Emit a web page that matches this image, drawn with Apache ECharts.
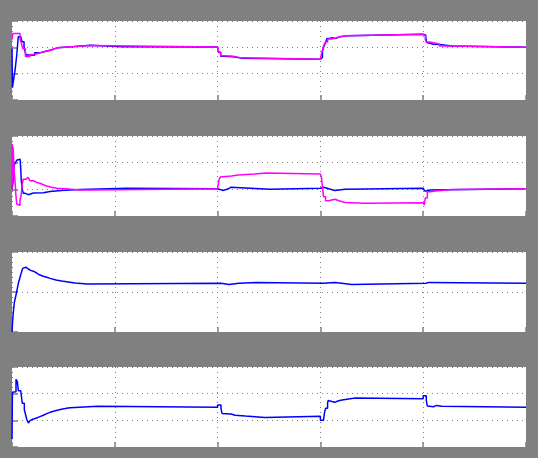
<!DOCTYPE html>
<html>
<head>
<meta charset="utf-8">
<script src="https://cdn.jsdelivr.net/npm/echarts@6/dist/echarts.min.js"></script>
<style>
  html, body { margin: 0; padding: 0; background: #808080; }
  #chart { width: 538px; height: 458px; }
</style>
</head>
<body>
<div id="chart"></div>
<script>
// time axis (s)
var tMin = 0, tMax = 5, tStep = 1;

// scope 1: two traces
var scope1Blue = [[0,1.96],[0.004,0.47],[0.015,0.76],[0.03,1.14],[0.046,1.70],[0.061,2.40],[0.085,2.355],[0.097,2.21],[0.117,2.02],[0.136,1.71],[0.159,1.645],[0.175,1.70],[0.22,1.79],[0.27,1.84],[0.32,1.89],[0.37,1.94],[0.41,1.98],[0.44,2.03],[0.61,2.08],[0.76,2.02],[1.07,2.02],[1.1,2.01],[2.0,2.0],[2.01,1.80],[2.03,1.66],[2.06,1.64],[2.15,1.59],[2.23,1.545],[3.0,1.545],[3.01,1.62],[3.02,1.85],[3.035,2.05],[3.05,2.18],[3.065,2.34],[3.09,2.36],[3.11,2.34],[3.15,2.40],[3.19,2.44],[3.26,2.495],[4.0,2.495],[4.012,2.46],[4.025,2.36],[4.035,2.18],[4.05,2.12],[4.1,2.11],[4.16,2.05],[4.28,2.0],[5.0,2.0]];
var scope1Magenta = [[0,2.30],[0.008,2.53],[0.078,2.32],[0.09,2.16],[0.105,1.95],[0.13,1.65],[0.175,1.73],[0.22,1.79],[0.27,1.84],[0.32,1.89],[0.37,1.94],[0.41,1.98],[0.44,2.03],[0.61,2.07],[0.76,2.01],[2.0,2.0],[2.01,1.82],[2.03,1.68],[2.06,1.66],[2.15,1.60],[2.23,1.545],[3.0,1.545],[3.01,1.75],[3.02,1.90],[3.035,2.10],[3.05,2.20],[3.07,2.32],[3.11,2.355],[3.15,2.40],[3.19,2.44],[3.26,2.495],[4.0,2.495],[4.01,2.43],[4.02,2.30],[4.03,2.20],[4.066,2.13],[4.157,2.05],[4.277,2.0],[5.0,2.0]];

// scope 2: two traces
var scope2Blue = [[0,1.0],[0.005,1.05],[0.013,1.35],[0.02,1.90],[0.035,2.02],[0.05,2.10],[0.068,2.13],[0.08,2.07],[0.09,1.35],[0.1,1.0],[0.11,0.85],[0.13,0.80],[0.16,0.86],[0.207,0.87],[0.305,0.92],[0.37,0.96],[0.48,0.99],[0.66,1.04],[1.12,1.02],[2.0,1.04],[2.01,0.96],[2.05,1.01],[2.1,1.08],[2.13,1.04],[2.32,1.0],[2.51,1.04],[3.0,1.04],[3.01,1.08],[3.03,1.01],[3.09,0.96],[3.14,1.0],[3.24,1.04],[4.0,1.04],[4.015,0.94],[4.035,0.975],[4.065,1.02],[5.0,1.02]];
var scope2Magenta = [[0,1.0],[0.002,2.70],[0.006,1.20],[0.01,2.60],[0.015,2.22],[0.02,1.70],[0.028,1.40],[0.038,0.78],[0.046,0.45],[0.061,0.40],[0.078,0.60],[0.088,0.75],[0.1,1.20],[0.11,1.38],[0.136,1.45],[0.156,1.38],[0.175,1.32],[0.207,1.26],[0.24,1.23],[0.272,1.17],[0.305,1.125],[0.338,1.08],[0.386,1.04],[0.435,1.01],[0.548,0.975],[0.661,0.975],[0.775,1.02],[2.0,1.02],[2.005,1.16],[2.015,1.38],[2.03,1.47],[2.05,1.50],[2.135,1.54],[2.2,1.575],[2.36,1.61],[2.47,1.575],[3.0,1.575],[3.01,1.45],[3.02,1.10],[3.03,0.72],[3.05,0.575],[3.08,0.625],[3.14,0.56],[3.19,0.51],[3.24,0.475],[3.43,0.50],[4.0,0.50],[4.01,0.41],[4.02,0.675],[4.04,0.91],[4.07,0.94],[4.12,0.99],[4.28,1.02],[5.0,1.02]];

// scope 3
var scope3Blue = [[0,0],[0.005,0.22],[0.013,0.51],[0.023,0.74],[0.039,0.925],[0.052,1.09],[0.062,1.22],[0.078,1.37],[0.094,1.51],[0.104,1.59],[0.117,1.62],[0.136,1.575],[0.159,1.54],[0.181,1.52],[0.207,1.475],[0.24,1.43],[0.266,1.40],[0.298,1.375],[0.331,1.34],[0.37,1.30],[0.428,1.275],[0.483,1.25],[0.548,1.225],[0.613,1.20],[0.733,1.22],[2.033,1.19],[2.111,1.22],[2.208,1.24],[2.374,1.22],[3.03,1.24],[3.14,1.22],[3.207,1.19],[3.305,1.22],[4.03,1.24],[4.05,1.22],[5.0,1.22]];

// scope 4
var scope4Blue = [[0,0.29],[0.004,2.05],[0.01,2.07],[0.039,2.54],[0.052,2.45],[0.062,2.11],[0.085,2.04],[0.1,1.64],[0.12,1.39],[0.133,1.20],[0.143,1.04],[0.159,0.90],[0.175,0.99],[0.191,1.05],[0.207,1.09],[0.24,1.14],[0.272,1.19],[0.305,1.25],[0.338,1.30],[0.37,1.35],[0.412,1.40],[0.46,1.44],[0.516,1.475],[0.564,1.525],[0.834,1.49],[2.0,1.575],[2.033,1.45],[2.043,1.26],[2.058,1.24],[2.13,1.19],[2.17,1.16],[2.27,1.11],[2.46,1.15],[3.0,1.0],[3.03,1.07],[3.04,1.29],[3.05,1.45],[3.07,1.64],[3.075,1.74],[3.09,1.70],[3.12,1.675],[3.14,1.725],[3.17,1.76],[3.21,1.80],[3.275,1.84],[3.34,1.81],[4.0,1.92],[4.03,1.75],[4.04,1.54],[4.05,1.51],[4.1,1.56],[4.13,1.525],[4.18,1.49],[5.0,1.49]];

// y ranges per scope: [min, max, interval]
var yRanges = [[0, 3, 1], [0, 3, 1], [0, 2, 1], [0, 3, 1]];
var scopeTraces = [
  [scope1Blue, scope1Magenta],
  [scope2Blue, scope2Magenta],
  [scope3Blue],
  [scope4Blue]
];
var traceColors = ['#0000ff', '#ff00ff'];

var gridTops = [21, 136, 252, 367];
var gridHeights = [79, 80, 80, 80];

var gridColor = '#808080';
var grids = [], xAxes = [], yAxes = [], series = [];

for (var i = 0; i < 4; i++) {
  grids.push({
    left: 12, top: gridTops[i], width: 514, height: gridHeights[i],
    show: true, backgroundColor: '#ffffff', borderWidth: 0
  });
  // bottom + top time axes (top one only for ticks)
  ['bottom', 'top'].forEach(function (pos, k) {
    xAxes.push({
      type: 'value', gridIndex: i, position: pos,
      min: tMin, max: tMax, interval: tStep,
      axisLine: { show: false },
      axisLabel: { show: false },
      axisTick: { show: true, inside: true, length: 5, lineStyle: { color: gridColor, width: 1.5 } },
      splitLine: { show: k === 0, lineStyle: { color: gridColor, type: [1, 4], width: 1 } }
    });
  });
  ['left', 'right'].forEach(function (pos, k) {
    yAxes.push({
      type: 'value', gridIndex: i, position: pos,
      min: yRanges[i][0], max: yRanges[i][1], interval: yRanges[i][2],
      axisLine: { show: false },
      axisLabel: { show: false },
      axisTick: { show: true, inside: true, length: 6, lineStyle: { color: gridColor, width: 1.5 } },
      splitLine: { show: k === 0, lineStyle: { color: gridColor, type: [1, 4], width: 1 } }
    });
  });
  scopeTraces[i].forEach(function (data, j) {
    series.push({
      type: 'line', xAxisIndex: 2 * i, yAxisIndex: 2 * i,
      data: data, step: 'end', showSymbol: false, symbol: 'none',
      lineStyle: { color: traceColors[j], width: 1.5 },
      z: 3 + j
    });
  });
}

var chart = echarts.init(document.getElementById('chart'));
chart.setOption({
  animation: false,
  backgroundColor: '#808080',
  grid: grids,
  xAxis: xAxes,
  yAxis: yAxes,
  series: series
});
</script>
</body>
</html>
